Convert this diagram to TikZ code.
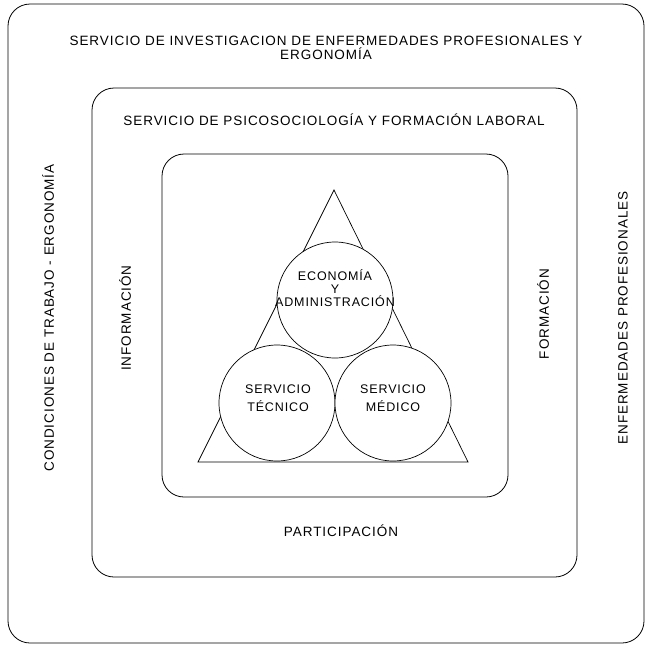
\documentclass[tikz,border=0pt]{standalone}
\usepackage{fontspec}
\setmainfont{Liberation Sans}[LetterSpace=7]
\begin{document}
\begin{tikzpicture}[x=1pt,y=-1pt,
  frame/.style={line width=0.8pt, rounded corners=22pt},
  label/.style={font=\fontsize{13.5}{14}\selectfont, inner sep=0pt, align=center},
  side/.style={label, rotate=90},
  unit/.style={circle, draw, fill=white, line width=0.7pt, minimum size=116pt, inner sep=0pt},
  unittext/.style={font=\fontsize{12.5}{12.7}\selectfont, align=center, inner sep=0pt},
]
\useasboundingbox (0,0) rectangle (648,646);

% nested frames
\draw[frame] (8,4) rectangle (644,643);
\draw[frame] (92,88) rectangle (577,577);
\draw[frame] (162,154) rectangle (508,497);

% triangle behind the three services
\coordinate (apex) at (334,190);
\coordinate (bl) at (198,462);
\coordinate (br) at (468,462);
\draw[line width=0.7pt] (apex) -- (bl) -- (br) -- cycle;

% three services
\node[unit] (econ) at (335,300) {};
\node[unit] (tec) at (277,403) {};
\node[unit] (med) at (393,403) {};
\node[unittext] (econt) at (335,288) {ECONOMÍA\\Y\\ADMINISTRACIÓN};
\node[unittext, font=\fontsize{12.5}{18}\selectfont] (tect) at (278,398) {SERVICIO\\TÉCNICO};
\node[unittext, font=\fontsize{12.5}{18}\selectfont] (medt) at (393,398) {SERVICIO\\MÉDICO};

% labels
\node[label] (outer) at (326,48) {SERVICIO DE INVESTIGACION DE ENFERMEDADES PROFESIONALES Y\\ERGONOMÍA};
\node[label] (middle) at (334,120) {SERVICIO DE PSICOSOCIOLOGÍA Y FORMACIÓN LABORAL};
\node[label] (part) at (341,531) {PARTICIPACIÓN};
\node[side] (cond) at (48,318) {CONDICIONES DE TRABAJO - ERGONOMÍA};
\node[side] (info) at (125,318) {INFORMACIÓN};
\node[side] (form) at (543,314) {FORMACIÓN};
\node[side] (enf) at (623,318) {ENFERMEDADES PROFESIONALES};
\end{tikzpicture}
\end{document}
